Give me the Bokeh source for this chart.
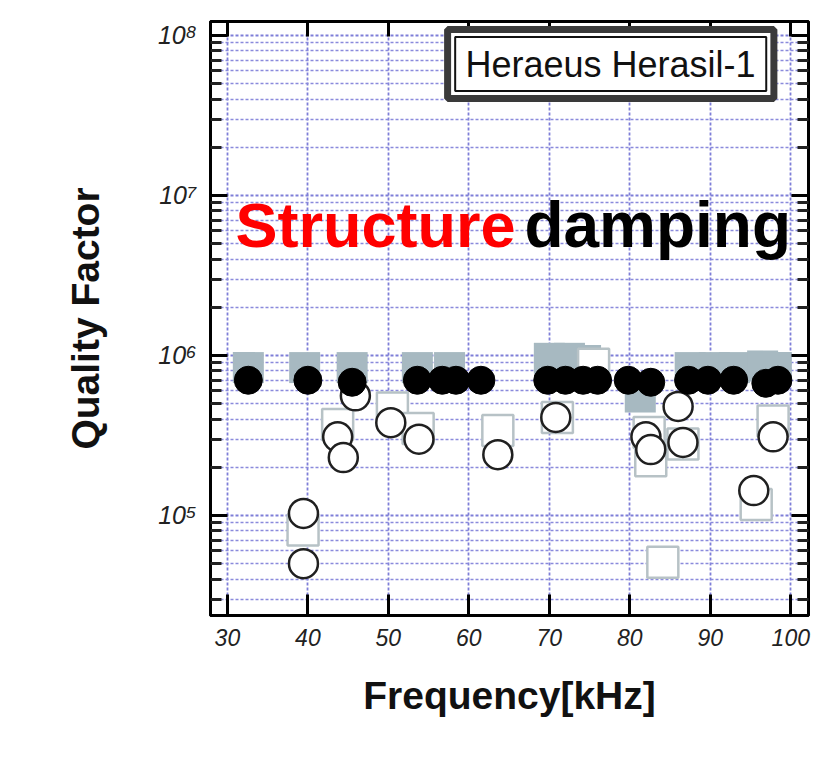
from bokeh.plotting import figure
from bokeh.models import (Range1d, LogAxis, LinearAxis, FixedTicker, CustomJSTickFormatter,
                          BoxAnnotation, Label)
from bokeh.embed import file_html
from bokeh.resources import INLINE

# ---------------- data ----------------
# filled black circles
fc_freq = [32.6, 40.0, 45.5, 53.6, 56.7, 58.4, 61.5, 69.8, 72.0, 74.2, 76.0,
           79.8, 82.6, 87.3, 89.7, 92.9, 96.9, 98.4]
fc_q = [7.0e5, 7.0e5, 6.8e5, 7.0e5, 7.0e5, 7.0e5, 7.0e5, 7.0e5, 7.0e5, 7.0e5, 7.0e5,
        7.0e5, 6.8e5, 7.0e5, 7.0e5, 7.0e5, 6.7e5, 7.0e5]
# filled grey squares
gs_freq = [32.6, 39.6, 45.5, 53.6, 57.6, 70.0, 72.5, 74.5, 81.3, 87.5, 90.5, 93.0, 96.5, 98.2]
gs_q = [8.4e5, 8.4e5, 8.4e5, 8.4e5, 8.4e5, 9.6e5, 9.6e5, 9.3e5, 5.5e5, 8.4e5, 8.4e5,
        8.4e5, 8.6e5, 8.4e5]
# open circles
oc_freq = [39.45, 39.45, 43.7, 44.4, 45.9, 50.3, 53.8, 63.6, 70.8, 82.0, 82.6,
           86.0, 86.6, 95.4, 97.8]
oc_q = [1.03e5, 5.0e4, 3.1e5, 2.3e5, 5.6e5, 3.8e5, 3.0e5, 2.4e5, 4.1e5, 3.1e5, 2.58e5,
        4.8e5, 2.86e5, 1.43e5, 3.1e5]
# open squares
os_freq = [39.4, 43.7, 50.5, 53.7, 63.6, 71.0, 75.5, 82.4, 82.6, 84.1, 86.6, 95.7, 97.8]
os_q = [8.1e4, 3.7e5, 4.7e5, 3.5e5, 3.4e5, 4.1e5, 8.8e5, 3.3e5, 2.2e5, 5.1e4, 2.8e5,
        1.17e5, 3.9e5]

x_ticks = [30, 40, 50, 60, 70, 80, 90, 100]
y_major = [1e5, 1e6, 1e7, 1e8]
legend_text = "Heraeus Herasil-1"

# ---------------- figure ----------------
W, H = 813, 742
p = figure(width=W, height=H, output_backend="svg", toolbar_location=None,
           y_axis_type="log",
           x_range=Range1d(27.9, 102.2), y_range=Range1d(2.37e4, 1.223e8),
           min_border_left=210, min_border_right=5, min_border_top=21, min_border_bottom=127)
p.background_fill_color = "white"
p.border_fill_color = "white"
p.outline_line_color = "black"
p.outline_line_width = 3

y_minor = []
for e in range(4, 8):
    for k in range(2, 10):
        y_minor.append(k * 10 ** e)
yticker = FixedTicker(ticks=y_major, minor_ticks=y_minor)
xticker = FixedTicker(ticks=x_ticks, minor_ticks=[])

fmt = CustomJSTickFormatter(code="""
const s = {4:'\u2074',5:'\u2075',6:'\u2076',7:'\u2077',8:'\u2078'};
return '10' + s[Math.round(Math.log10(tick))];
""")

def style_axis(ax, labels=True):
    ax.axis_line_width = 3
    ax.axis_line_color = "black"
    ax.major_tick_in = 17
    ax.major_tick_out = 0
    ax.minor_tick_in = 11
    ax.minor_tick_out = 0
    ax.major_tick_line_width = 3
    ax.minor_tick_line_width = 3
    ax.major_tick_line_color = "black"
    ax.minor_tick_line_color = "#222222"
    if not labels:
        ax.major_label_text_font_size = "0px"
        ax.major_label_text_color = None

# left axis
ya = p.yaxis[0]
ya.ticker = yticker
ya.formatter = fmt
style_axis(ya)
ya.major_label_text_font = "Liberation Sans"
ya.major_label_text_font_style = "italic"
ya.major_label_text_font_size = "25px"
ya.major_label_text_color = "#222222"
ya.major_label_standoff = 14
ya.axis_label = "Quality Factor"
ya.axis_label_text_font = "Liberation Sans"
ya.axis_label_text_font_style = "bold"
ya.axis_label_text_font_size = "39px"
ya.axis_label_text_color = "#111111"
ya.axis_label_standoff = 48

# bottom axis
xa = p.xaxis[0]
xa.ticker = xticker
style_axis(xa)
xa.major_tick_in = 21
xa.minor_tick_line_color = None
xa.major_label_text_font = "Liberation Sans"
xa.major_label_text_font_style = "italic"
xa.major_label_text_font_size = "23px"
xa.major_label_text_color = "#222222"
xa.major_label_standoff = 13
xa.axis_label = "Frequency[kHz]"
xa.axis_label_text_font = "Liberation Sans"
xa.axis_label_text_font_style = "bold"
xa.axis_label_text_font_size = "39px"
xa.axis_label_text_color = "#111111"
xa.axis_label_standoff = 25

# right & top axes (ticks only)
ra = LogAxis(ticker=yticker)
style_axis(ra, labels=False)
p.add_layout(ra, "right")
ta = LinearAxis(ticker=xticker)
style_axis(ta, labels=False)
ta.major_tick_in = 15
ta.minor_tick_line_color = None
p.add_layout(ta, "above")

# grid
p.xgrid.ticker = xticker
p.ygrid.ticker = yticker
for g in (p.xgrid[0], p.ygrid[0]):
    g.grid_line_color = "#7e7ed8"
    g.grid_line_width = 1.8
    g.grid_line_dash = "3 2"
p.ygrid.minor_grid_line_color = "#8a8adc"
p.ygrid.minor_grid_line_width = 1.6
p.ygrid.minor_grid_line_dash = "3 2"

# ---------------- marks ----------------
p.scatter(x=gs_freq, y=gs_q, marker="square", size=31, fill_color="#a7b9c1",
          line_color=None)
p.scatter(x=os_freq, y=os_q, marker="square", size=31, fill_color="white",
          line_color="#b7c2c6", line_width=2.5)
p.scatter(x=oc_freq, y=oc_q, marker="circle", size=29, fill_color="white",
          line_color="#202020", line_width=2.5)
p.scatter(x=fc_freq, y=fc_q, marker="circle", size=28, fill_color="black",
          line_color="black", line_width=1)

# ---------------- annotations ----------------
p.add_layout(BoxAnnotation(left=57.36, right=97.9, bottom=4.04e7, top=1.09e8,
                           fill_color="white", fill_alpha=1.0,
                           line_color="#3a3a3a", line_alpha=1.0, line_width=7,
                           level="annotation"))
p.add_layout(BoxAnnotation(left=58.3, right=96.95, bottom=4.5e7, top=0.98e8,
                           fill_color=None, line_color="#111111", line_alpha=1.0,
                           line_width=2, level="annotation"))
p.add_layout(Label(x=77.6, y=6.6e7, text=legend_text, text_align="center",
                   text_baseline="middle", text_font="Liberation Sans",
                   text_font_size="36px", text_color="#111111"))

p.add_layout(Label(x=31.0, y=6.5e6, text="Structure", text_align="left",
                   text_baseline="alphabetic", text_font="Liberation Sans",
                   text_font_style="bold", text_font_size="63px", text_color="#ff0000"))
p.add_layout(Label(x=66.9, y=6.5e6, text="damping", text_align="left",
                   text_baseline="alphabetic", text_font="Liberation Sans",
                   text_font_style="bold", text_font_size="64px", text_color="black"))

open("out.html", "w").write(file_html(p, INLINE))
